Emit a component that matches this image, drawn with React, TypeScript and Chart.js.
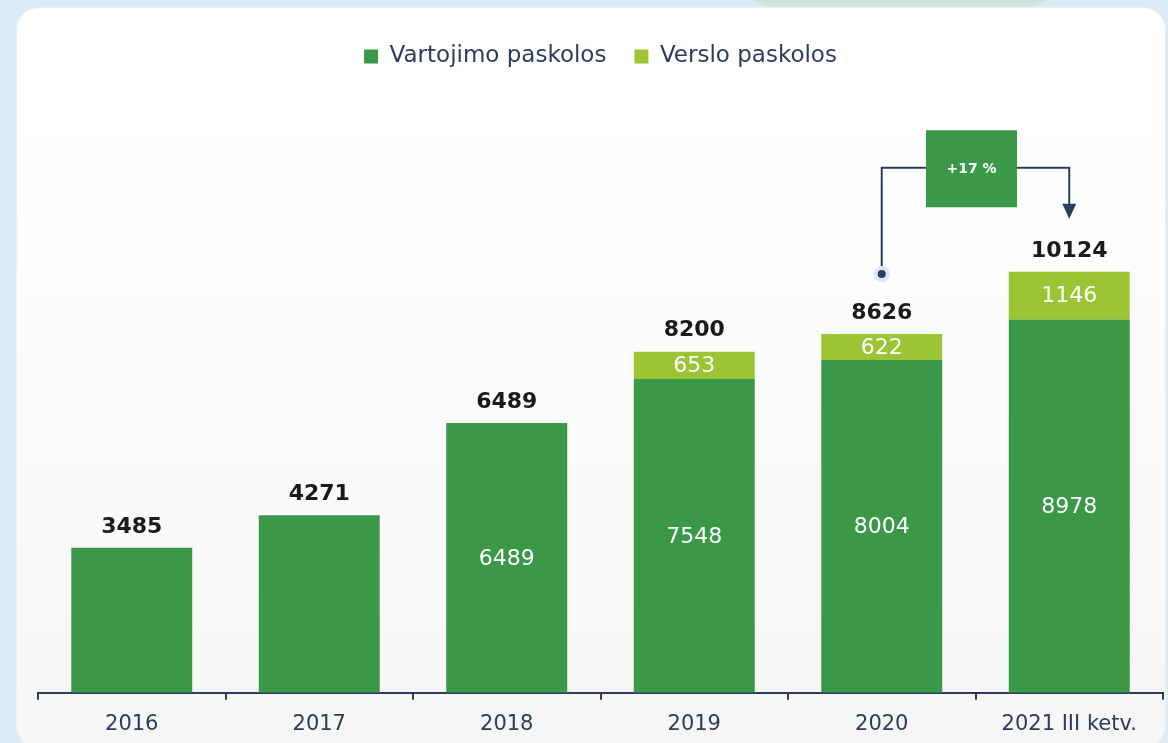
import React, { useEffect, useRef } from "react";
import { Chart, registerables } from "chart.js";

Chart.register(...registerables);

const categories = ["2016", "2017", "2018", "2019", "2020", "2021 III ketv."];
const vartojimo = [3485, 4271, 6489, 7548, 8004, 8978];
const verslo: (number | null)[] = [null, null, null, 653, 622, 1146];
const totals = [3485, 4271, 6489, 8200, 8626, 10124];
const showInsideVartojimo = [false, false, true, true, true, true];
const growthLabel = "+17 %";
const growthFrom = 4;
const growthTo = 5;

const FONT = "'DejaVu Sans', sans-serif";
const NAVY = "#2b3d5e";
const DARK_GREEN = "#3b9848";
const LIGHT_GREEN = "#9cc536";

const labelPlugin = {
  id: "barLabels",
  afterDatasetsDraw(chart: any) {
    const ctx = chart.ctx;
    const m0 = chart.getDatasetMeta(0).data;
    const m1 = chart.getDatasetMeta(1).data;
    ctx.save();
    ctx.textAlign = "center";
    ctx.textBaseline = "middle";
    const tops: number[] = [];
    for (let i = 0; i < categories.length; i++) {
      const b0 = m0[i];
      const b1 = m1[i];
      let top = b0.y;
      if (showInsideVartojimo[i]) {
        ctx.fillStyle = "#ffffff";
        ctx.font = `22px ${FONT}`;
        ctx.fillText(String(vartojimo[i]), b0.x, (b0.y + b0.base) / 2 + 1);
      }
      if (verslo[i] != null && b1) {
        top = b1.y;
        ctx.fillStyle = "#ffffff";
        ctx.font = `22px ${FONT}`;
        ctx.fillText(String(verslo[i]), b1.x, (b1.y + b1.base) / 2 + 1);
      }
      tops.push(top);
      ctx.fillStyle = "#1a1a1a";
      ctx.font = `bold 22px ${FONT}`;
      ctx.fillText(String(totals[i]), b0.x, top - 21);
    }

    // growth annotation
    const xFrom = m0[growthFrom].x;
    const xTo = m0[growthTo].x;
    const topTo = tops[growthTo];
    const topFrom = tops[growthFrom];
    const lineY = topTo - 104;
    const dotY = topFrom - 60;
    const tipY = topTo - 53;
    const boxW = 91;
    const boxH = 77;
    const boxCx = (xFrom + xTo) / 2 - 4;

    ctx.strokeStyle = NAVY;
    ctx.lineWidth = 2;
    ctx.beginPath();
    ctx.moveTo(xFrom, dotY);
    ctx.lineTo(xFrom, lineY);
    ctx.lineTo(xTo, lineY);
    ctx.lineTo(xTo, tipY - 14);
    ctx.stroke();

    ctx.fillStyle = NAVY;
    ctx.beginPath();
    ctx.moveTo(xTo - 7, tipY - 15);
    ctx.lineTo(xTo + 7, tipY - 15);
    ctx.lineTo(xTo, tipY);
    ctx.closePath();
    ctx.fill();

    ctx.fillStyle = "#d8e8f6";
    ctx.beginPath();
    ctx.arc(xFrom, dotY, 8, 0, Math.PI * 2);
    ctx.fill();
    ctx.fillStyle = NAVY;
    ctx.beginPath();
    ctx.arc(xFrom, dotY, 4, 0, Math.PI * 2);
    ctx.fill();

    ctx.fillStyle = DARK_GREEN;
    ctx.fillRect(boxCx - boxW / 2, lineY - boxH / 2 + 1, boxW, boxH);
    ctx.fillStyle = "#ffffff";
    ctx.font = `bold 14px ${FONT}`;
    ctx.fillText(growthLabel, boxCx, lineY + 2);
    ctx.restore();
  },
};

export default function App() {
  const ref = useRef<HTMLCanvasElement | null>(null);
  useEffect(() => {
    if (!ref.current) return;
    const chart = new Chart(ref.current, {
      type: "bar",
      data: {
        labels: categories,
        datasets: [
          {
            label: "Vartojimo paskolos",
            data: vartojimo,
            backgroundColor: DARK_GREEN,
            borderWidth: 0,
          },
          {
            label: "Verslo paskolos",
            data: verslo,
            backgroundColor: LIGHT_GREEN,
            borderWidth: 0,
          },
        ],
      },
      options: {
        responsive: false,
        animation: false,
        devicePixelRatio: 1,
        layout: { padding: { left: 38, right: 5, top: 17, bottom: 6 } },
        datasets: {
          bar: { barPercentage: 1, categoryPercentage: 0.645 },
        },
        plugins: {
          tooltip: { enabled: false },
          legend: {
            display: true,
            position: "top",
            labels: {
              boxWidth: 14,
              boxHeight: 14,
              padding: 28,
              color: NAVY,
              font: { family: FONT, size: 23 },
            },
          },
        },
        scales: {
          x: {
            stacked: true,
            offset: true,
            border: { display: true, color: NAVY, width: 2 },
            grid: {
              display: true,
              offset: true,
              drawOnChartArea: false,
              drawTicks: true,
              tickLength: 7,
              color: NAVY,
              lineWidth: 2,
            },
            ticks: {
              color: NAVY,
              padding: 12,
              font: { family: FONT, size: 21 },
            },
          },
          y: {
            stacked: true,
            display: false,
            min: 0,
            max: 14784,
          },
        },
      },
      plugins: [labelPlugin],
    });
    return () => chart.destroy();
  }, []);

  return (
    <div
      style={{
        position: "fixed",
        left: 0,
        top: 0,
        width: 1168,
        height: 743,
        overflow: "hidden",
        background: "#deebf5",
      }}
    >
      <div
        style={{
          position: "absolute",
          left: 737,
          top: -40,
          width: 326,
          height: 48,
          borderRadius: "0 0 40px 40px",
          background: "#cfe4dd",
        }}
      />
      <div
        style={{
          position: "absolute",
          left: 17,
          top: 8,
          width: 1148,
          height: 740,
          borderRadius: 22,
          background: "linear-gradient(#ffffff 0%, #ffffff 15%, #f6f6f6 100%)",
          boxShadow: "0 0 0 1px #e6f1fa",
        }}
      />
      <canvas
        ref={ref}
        width={1168}
        height={755}
        style={{ position: "absolute", left: 0, top: 0, width: 1168, height: 755 }}
      />
    </div>
  );
}
